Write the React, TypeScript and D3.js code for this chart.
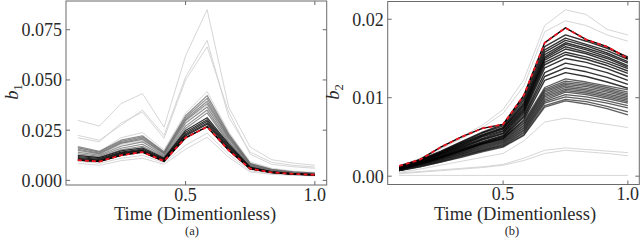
import React from "react";
import * as d3 from "d3";

// time points (dimensionless)
const times = [0.0833, 0.1667, 0.25, 0.3333, 0.4167, 0.5, 0.5833, 0.6667, 0.75, 0.8333, 0.9167, 1.0];

// ---- panel (a): b1 ----
const b1Light = [
  [0.0299, 0.0270, 0.0382, 0.0432, 0.0265, 0.0620, 0.0850, 0.0365, 0.0166, 0.0103, 0.0086, 0.0075],
  [0.0224, 0.0200, 0.0274, 0.0350, 0.0224, 0.0515, 0.0697, 0.0315, 0.0140, 0.0090, 0.0075, 0.0066],
  [0.0212, 0.0192, 0.0285, 0.0340, 0.0210, 0.0500, 0.0665, 0.0340, 0.0130, 0.0080, 0.0068, 0.0060],
  [0.0162, 0.0142, 0.0212, 0.0238, 0.0152, 0.0335, 0.0442, 0.0242, 0.0092, 0.0060, 0.0046, 0.0040],
  [0.0145, 0.0128, 0.0178, 0.0198, 0.0130, 0.0292, 0.0375, 0.0210, 0.0078, 0.0050, 0.0039, 0.0034],
  [0.0095, 0.0085, 0.0110, 0.0125, 0.0088, 0.0175, 0.0235, 0.0130, 0.0048, 0.0033, 0.0027, 0.0024],
  [0.0085, 0.0075, 0.0098, 0.0110, 0.0080, 0.0155, 0.0215, 0.0115, 0.0042, 0.0030, 0.0025, 0.0022],
];
const b1Mid = [
  [0.0168, 0.0145, 0.0200, 0.0222, 0.0142, 0.0322, 0.0422, 0.0232, 0.0085, 0.0055, 0.0042, 0.0036],
  [0.0162, 0.0141, 0.0194, 0.0217, 0.0139, 0.0313, 0.0408, 0.0226, 0.0083, 0.0054, 0.0041, 0.0035],
  [0.0155, 0.0136, 0.0188, 0.0210, 0.0135, 0.0304, 0.0394, 0.0219, 0.0080, 0.0052, 0.0040, 0.0034],
  [0.0150, 0.0132, 0.0184, 0.0204, 0.0132, 0.0298, 0.0382, 0.0214, 0.0078, 0.0050, 0.0039, 0.0033],
  [0.0140, 0.0125, 0.0170, 0.0192, 0.0125, 0.0285, 0.0365, 0.0205, 0.0075, 0.0048, 0.0037, 0.0032],
  [0.0132, 0.0120, 0.0160, 0.0180, 0.0120, 0.0270, 0.0350, 0.0195, 0.0072, 0.0046, 0.0036, 0.0031],
  [0.0125, 0.0115, 0.0152, 0.0170, 0.0115, 0.0258, 0.0336, 0.0188, 0.0070, 0.0045, 0.0035, 0.0030],
];
const b1Dark = [
  [0.0124, 0.0113, 0.0147, 0.0162, 0.0111, 0.0248, 0.0312, 0.0182, 0.0066, 0.0043, 0.0034, 0.0029],
  [0.0119, 0.0109, 0.0141, 0.0156, 0.0107, 0.0240, 0.0302, 0.0175, 0.0064, 0.0042, 0.0033, 0.0028],
  [0.0114, 0.0105, 0.0137, 0.0151, 0.0104, 0.0232, 0.0294, 0.0169, 0.0062, 0.0041, 0.0032, 0.0028],
  [0.0110, 0.0101, 0.0133, 0.0148, 0.0101, 0.0226, 0.0286, 0.0163, 0.0060, 0.0040, 0.0031, 0.0027],
  [0.0105, 0.0098, 0.0129, 0.0145, 0.0098, 0.0221, 0.0279, 0.0158, 0.0058, 0.0039, 0.0031, 0.0027],
  [0.0101, 0.0094, 0.0124, 0.0140, 0.0094, 0.0212, 0.0268, 0.0152, 0.0057, 0.0038, 0.0030, 0.0026],
];
const b1Mean = [0.0101, 0.0094, 0.0125, 0.0141, 0.0096, 0.0212, 0.0267, 0.0150, 0.0058, 0.0040, 0.0032, 0.0028];

// ---- panel (b): b2 ----
const b2Light = [
  [0.0012, 0.0023, 0.0036, 0.0050, 0.0065, 0.0085, 0.0123, 0.0192, 0.0212, 0.0206, 0.0187, 0.0180],
  [0.0012, 0.0022, 0.0035, 0.0048, 0.0062, 0.0080, 0.0115, 0.0184, 0.0198, 0.0192, 0.0180, 0.0172],
  [0.0005, 0.0009, 0.0014, 0.0019, 0.0024, 0.0029, 0.0045, 0.0069, 0.0074, 0.0070, 0.0066, 0.0062],
  [0.0004, 0.0006, 0.0008, 0.0010, 0.0012, 0.0015, 0.0023, 0.0033, 0.0036, 0.0034, 0.0032, 0.0030],
  [0.0003, 0.0005, 0.0007, 0.0009, 0.0011, 0.0014, 0.0020, 0.0029, 0.0033, 0.0031, 0.0029, 0.0026],
  [0.0001, 0.0001, 0.0001, 0.0001, 0.0001, 0.0001, 0.0001, 0.0001, 0.0001, 0.0001, 0.0001, 0.0001],
];
const b2Upper = [
  [0.0012, 0.0021, 0.0032, 0.0044, 0.0056, 0.0066, 0.0100, 0.0165, 0.0180, 0.0172, 0.0163, 0.0152],
  [0.0011, 0.0020, 0.0031, 0.0043, 0.0055, 0.0064, 0.0097, 0.0161, 0.0176, 0.0168, 0.0160, 0.0149],
  [0.0011, 0.0020, 0.0030, 0.0042, 0.0053, 0.0062, 0.0094, 0.0158, 0.0173, 0.0166, 0.0157, 0.0146],
  [0.0010, 0.0019, 0.0030, 0.0041, 0.0052, 0.0061, 0.0092, 0.0155, 0.0170, 0.0163, 0.0155, 0.0144],
  [0.0010, 0.0019, 0.0029, 0.0040, 0.0051, 0.0060, 0.0090, 0.0152, 0.0168, 0.0161, 0.0152, 0.0141],
  [0.0010, 0.0018, 0.0028, 0.0039, 0.0050, 0.0058, 0.0088, 0.0150, 0.0165, 0.0158, 0.0150, 0.0139],
  [0.0010, 0.0018, 0.0028, 0.0038, 0.0048, 0.0057, 0.0086, 0.0148, 0.0162, 0.0156, 0.0147, 0.0137],
  [0.0009, 0.0017, 0.0027, 0.0037, 0.0047, 0.0055, 0.0084, 0.0145, 0.0158, 0.0152, 0.0144, 0.0134],
  [0.0009, 0.0017, 0.0026, 0.0036, 0.0046, 0.0054, 0.0082, 0.0142, 0.0155, 0.0149, 0.0141, 0.0131],
  [0.0009, 0.0016, 0.0025, 0.0035, 0.0044, 0.0052, 0.0080, 0.0138, 0.0150, 0.0145, 0.0137, 0.0127],
  [0.0009, 0.0016, 0.0025, 0.0034, 0.0043, 0.0051, 0.0077, 0.0132, 0.0144, 0.0139, 0.0132, 0.0122],
  [0.0009, 0.0016, 0.0024, 0.0033, 0.0042, 0.0050, 0.0075, 0.0127, 0.0138, 0.0133, 0.0126, 0.0117],
  [0.0008, 0.0015, 0.0023, 0.0032, 0.0041, 0.0048, 0.0072, 0.0122, 0.0132, 0.0127, 0.0120, 0.0112],
];
const b2Lower = [
  [0.0009, 0.0016, 0.0024, 0.0033, 0.0042, 0.0049, 0.0070, 0.0113, 0.0124, 0.0120, 0.0115, 0.0110],
  [0.0009, 0.0015, 0.0023, 0.0032, 0.0041, 0.0048, 0.0068, 0.0111, 0.0121, 0.0118, 0.0113, 0.0107],
  [0.0008, 0.0015, 0.0023, 0.0031, 0.0040, 0.0047, 0.0067, 0.0109, 0.0119, 0.0116, 0.0111, 0.0105],
  [0.0008, 0.0015, 0.0022, 0.0030, 0.0039, 0.0046, 0.0065, 0.0107, 0.0117, 0.0114, 0.0109, 0.0103],
  [0.0008, 0.0014, 0.0022, 0.0030, 0.0038, 0.0045, 0.0064, 0.0105, 0.0115, 0.0112, 0.0107, 0.0101],
  [0.0008, 0.0014, 0.0021, 0.0029, 0.0037, 0.0044, 0.0062, 0.0103, 0.0113, 0.0110, 0.0105, 0.0099],
  [0.0008, 0.0014, 0.0021, 0.0028, 0.0036, 0.0043, 0.0061, 0.0101, 0.0111, 0.0108, 0.0103, 0.0097],
  [0.0008, 0.0014, 0.0020, 0.0028, 0.0035, 0.0042, 0.0059, 0.0099, 0.0109, 0.0106, 0.0101, 0.0095],
  [0.0007, 0.0013, 0.0020, 0.0027, 0.0034, 0.0041, 0.0058, 0.0097, 0.0107, 0.0104, 0.0099, 0.0093],
  [0.0007, 0.0013, 0.0019, 0.0026, 0.0033, 0.0040, 0.0056, 0.0095, 0.0104, 0.0101, 0.0096, 0.0090],
  [0.0007, 0.0013, 0.0019, 0.0026, 0.0033, 0.0039, 0.0055, 0.0093, 0.0101, 0.0098, 0.0093, 0.0087],
  [0.0007, 0.0012, 0.0018, 0.0025, 0.0032, 0.0038, 0.0053, 0.0090, 0.0098, 0.0095, 0.0089, 0.0082],
  [0.0007, 0.0012, 0.0018, 0.0024, 0.0031, 0.0037, 0.0052, 0.0088, 0.0096, 0.0092, 0.0086, 0.0078],
];
const b2Mean = [0.0013, 0.0021, 0.0037, 0.0050, 0.0061, 0.0066, 0.0103, 0.0170, 0.0189, 0.0174, 0.0165, 0.0150];

const xTicks = [0.5, 1.0];
const b1Ticks = [0, 0.025, 0.05, 0.075];
const b1TickLabels = ["0.000", "0.025", "0.050", "0.075"];
const b2Ticks = [0, 0.01, 0.02];
const b2TickLabels = ["0.00", "0.01", "0.02"];

const FONT = "Liberation Serif";
const FRAME = "#6b6b6b";
const TXT = "#2a2a2a";

type Group = { data: number[][]; color: string; width: number; opacity: number };

function Panel(props: {
  x0: number; x1: number; y0: number; y1: number;
  yDomain: [number, number];
  yTicks: number[]; yLabels: string[];
  groups: Group[]; mean: number[];
  ylab: string; ylabX: number; caption: string; labelCx: number;
}) {
  const { x0, x1, y0, y1 } = props;
  const x = d3.scaleLinear().domain([0.0375, 1.0458]).range([x0, x1]);
  const y = d3.scaleLinear().domain(props.yDomain).range([y1, y0]);
  const line = d3.line<number>().x((_, i) => x(times[i])).y((d) => y(d));
  const tl = 4;
  return (
    <g style={{ fontFamily: FONT }}>
      {props.groups.map((g, gi) =>
        g.data.map((s, si) => (
          <path key={gi + "-" + si} d={line(s) || ""} fill="none" stroke={g.color}
            strokeWidth={g.width} strokeOpacity={g.opacity} strokeLinejoin="round" />
        ))
      )}
      <path d={line(props.mean) || ""} fill="none" stroke="#000" strokeWidth={1.4} />
      <path d={line(props.mean) || ""} fill="none" stroke="#ee1620" strokeWidth={1.8} strokeDasharray="4,3" />
      <rect x={x0} y={y0} width={x1 - x0} height={y1 - y0} fill="none" stroke={FRAME} strokeWidth={1} />
      {xTicks.map((t) => (
        <g key={"xt" + t}>
          <line x1={x(t)} x2={x(t)} y1={y1} y2={y1 - tl} stroke={FRAME} />
          <line x1={x(t)} x2={x(t)} y1={y0} y2={y0 + tl} stroke={FRAME} />
          <text x={x(t)} y={y1 + 15.5} textAnchor="middle" fontSize={18} fill={TXT}>
            {t.toFixed(1)}
          </text>
        </g>
      ))}
      {props.yTicks.map((t, i) => (
        <g key={"yt" + t}>
          <line x1={x0} x2={x0 + tl} y1={y(t)} y2={y(t)} stroke={FRAME} />
          <line x1={x1} x2={x1 - tl} y1={y(t)} y2={y(t)} stroke={FRAME} />
          <text x={x0 - 4} y={y(t)} dy="0.36em" textAnchor="end" fontSize={18} fill={TXT}>
            {props.yLabels[i]}
          </text>
        </g>
      ))}
      <text transform={`translate(${props.ylabX},92) rotate(-90)`} textAnchor="middle" fontSize={18.5} fill={TXT}>
        <tspan fontStyle="italic">b</tspan>
        <tspan fontSize={12.5} dy={3.5}>{props.ylab}</tspan>
      </text>
      <text x={props.labelCx} y={219.5} textAnchor="middle" fontSize={18.5} fill={TXT}>
        Time (Dimentionless)
      </text>
      <text x={props.labelCx - 3} y={234.5} textAnchor="middle" fontSize={12.5} fill={TXT}>
        {props.caption}
      </text>
    </g>
  );
}

export default function App() {
  return (
    <svg width={640} height={241} style={{ position: "absolute", left: 0, top: 0, background: "#fff" }}>
      <Panel x0={66} x1={326.7} y0={1} y1={185} yDomain={[-0.0023, 0.0893]}
        yTicks={b1Ticks} yLabels={b1TickLabels}
        groups={[
          { data: b1Light, color: "#cfcfcf", width: 1, opacity: 0.85 },
          { data: b1Mid, color: "#6a6a6a", width: 1.2, opacity: 0.75 },
          { data: b1Dark, color: "#0a0a0a", width: 1.2, opacity: 0.85 },
        ]}
        mean={b1Mean} ylab="1" ylabX={18} caption="(a)" labelCx={195} />
      <Panel x0={387.7} x1={639.3} y0={1.5} y1={184.5} yDomain={[-0.00106, 0.02226]}
        yTicks={b2Ticks} yLabels={b2TickLabels}
        groups={[
          { data: b2Light, color: "#cfcfcf", width: 1, opacity: 0.85 },
          { data: b2Lower, color: "#1a1a1a", width: 1.3, opacity: 0.7 },
          { data: b2Upper, color: "#000", width: 1.4, opacity: 0.8 },
        ]}
        mean={b2Mean} ylab="2" ylabX={339} caption="(b)" labelCx={515} />
    </svg>
  );
}
